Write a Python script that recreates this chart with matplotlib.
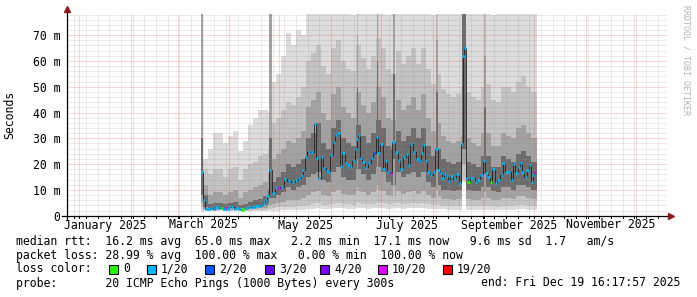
import matplotlib
matplotlib.use("Agg")
import matplotlib.pyplot as plt
from matplotlib.lines import Line2D
from matplotlib.patches import Rectangle

# x values are day-of-year 2025 (Jan 1 = 0)
med_day = [73.6, 74.8, 76.0, 77.6, 79.0, 81.0, 82.4, 84.0, 85.6, 87.0,
           88.0, 89.0, 90.0, 91.6, 93.6, 95.0, 96.4, 98.0, 99.0, 100.4,
           102.0, 103.6, 105.0, 106.4, 108.0, 109.6, 111.0, 112.0, 113.0, 114.4,
           116.6, 118.0, 119.6, 121.6, 123.6, 126.0, 128.4, 130.0, 132.0, 133.6,
           134.4, 136.0, 137.8, 139.6, 141.6, 142.8, 144.0, 145.6, 147.0, 148.8,
           150.0, 151.2, 152.8, 154.0, 155.6, 157.0, 158.6, 160.0, 161.6, 163.0,
           164.8, 166.0, 166.8, 168.0, 169.0, 170.6, 172.0, 174.0, 175.6, 177.0,
           178.6, 179.6, 181.4, 182.6, 184.0, 185.4, 187.0, 188.6, 190.4, 192.0,
           193.4, 195.0, 196.6, 198.0, 199.0, 201.0, 203.0, 204.4, 205.6, 207.0,
           208.0, 209.6, 211.0, 213.0, 214.4, 215.6, 217.0, 218.0, 219.6, 220.6,
           222.0, 223.3, 225.6, 227.0, 228.6, 229.6, 230.6, 231.6, 232.6, 233.6,
           235.0, 236.4, 238.0, 239.6, 241.4, 243.0, 244.4, 245.6, 247.0, 248.6,
           250.0, 251.6, 253.6, 254.6, 256.4, 258.0, 259.6, 261.0, 262.4, 264.0,
           265.0, 266.0, 268.0, 269.0, 270.4, 271.6, 272.4, 273.6]
med_ms = [17.0, 6.1, 2.6, 2.6, 2.8, 2.6, 3.2, 3.0, 2.8, 2.6,
          2.9, 2.7, 3.2, 3.3, 2.7, 2.9, 2.6, 2.2, 2.7, 3.0,
          3.2, 3.3, 3.5, 3.6, 3.9, 4.3, 4.8, 6.1, 7.6, 17.7,
          8.9, 10.7, 10.9, 11.2, 14.1, 13.5, 13.2, 13.8, 14.5, 15.5,
          17.7, 22.9, 24.8, 24.8, 35.4, 22.2, 14.5, 22.9, 18.5, 17.5,
          17.0, 23.5, 28.7, 31.3, 31.9, 19.3, 24.4, 20.5, 19.5, 19.0,
          21.3, 26.0, 29.6, 31.3, 22.2, 20.9, 19.0, 20.3, 22.2, 24.2,
          30.6, 24.2, 27.8, 18.1, 21.3, 17.0, 16.4, 28.4, 24.8, 21.6,
          18.0, 22.9, 23.8, 19.6, 27.7, 24.8, 21.9, 21.3, 24.4, 27.4,
          21.3, 17.0, 15.8, 16.8, 25.7, 17.7, 16.4, 14.5, 16.2, 15.4,
          13.4, 15.4, 14.1, 16.2, 12.6, 27.8, 62.0, 64.9, 14.5, 12.9,
          14.5, 14.5, 13.2, 13.8, 15.8, 21.3, 16.7, 15.1, 13.2, 18.0,
          12.6, 13.8, 15.8, 20.3, 16.8, 16.8, 13.8, 19.9, 16.4, 19.0,
          20.5, 17.0, 15.1, 17.7, 19.6, 13.2, 15.8, 17.1]
# pings lost out of 20 for each median sample
med_lost = [1, 1, 1, 1, 1, 1, 1, 1, 0, 1,
            10, 1, 1, 1, 1, 1, 1, 0, 0, 1,
            1, 1, 1, 1, 1, 1, 1, 1, 1, 1,
            1, 1, 10, 1, 1, 1, 1, 1, 1, 1,
            1, 1, 1, 1, 1, 1, 1, 1, 1, 1,
            1, 1, 1, 1, 1, 1, 1, 1, 1, 1,
            1, 1, 1, 1, 1, 1, 1, 1, 1, 2,
            1, 1, 1, 1, 1, 1, 10, 1, 1, 1,
            1, 1, 1, 1, 1, 1, 1, 1, 1, 1,
            1, 1, 1, 1, 1, 1, 1, 1, 1, 1,
            1, 1, 1, 1, 1, 1, 1, 1, 1, 0,
            1, 1, 1, 1, 1, 1, 1, 1, 0, 1,
            1, 1, 1, 1, 1, 1, 1, 1, 1, 1,
            1, 1, 1, 1, 1, 1, 1, 10]

# smoke (ping spread percentiles) per sample, ms
smoke_day = [73, 74, 77, 80, 83, 86, 89, 92, 95, 98,
             101, 104, 107, 110, 113, 114, 115.5, 118, 121, 124,
             127, 130, 133, 136, 139, 142, 145, 148, 151, 154,
             157, 160, 163, 166, 166.5, 167.5, 169, 172, 175, 178,
             178.5, 179.5, 181, 184, 187, 188.5, 189.5, 190, 193, 196,
             199, 202, 205, 208, 211, 214, 214.3, 215.3, 217, 220,
             223, 226, 229, 229.7, 232.2, 235, 238, 241, 242.8, 243.8,
             244, 247, 250, 253, 256, 259, 262, 265, 268, 271,
             274.4]
smoke_min = [1.5, 1.8, 1.8, 1.8, 1.8, 1.7, 1.8, 1.8, 1.8, 1.7,
             1.8, 1.9, 2.0, 2.0, 2.2, 1.8, 2.0, 2.0, 2.1, 2.2,
             2.2, 2.3, 2.4, 2.6, 2.7, 2.8, 2.6, 2.5, 2.8, 3.0,
             2.8, 2.7, 2.6, 2.9, 2.9, 2.9, 2.8, 2.7, 2.8, 3.0,
             3.0, 3.0, 2.9, 2.7, 2.6, 2.8, 2.6, 2.9, 2.7, 2.8,
             2.9, 2.8, 2.9, 2.7, 2.5, 2.6, 2.6, 2.6, 2.5, 2.4,
             2.4, 2.4, 2.3, 13, 2.3, 2.3, 2.3, 2.4, 2.4, 2.4,
             2.4, 2.3, 2.3, 2.4, 2.4, 2.4, 2.5, 2.5, 2.4, 2.3,
             2.3]
smoke_p10 = [2.5, 2.1, 2.0, 2.0, 2.1, 1.9, 2.0, 2.1, 2.0, 1.9,
             2.0, 2.1, 2.3, 2.4, 2.7, 2.5, 3.0, 3.2, 3.3, 3.5,
             3.5, 3.6, 3.8, 4.2, 4.5, 4.8, 4.3, 4.0, 4.6, 5.0,
             4.5, 4.4, 4.3, 4.9, 5.0, 4.9, 4.6, 4.4, 4.7, 5.0,
             5.2, 5.0, 4.8, 4.4, 4.2, 4.8, 4.2, 4.8, 4.5, 4.6,
             4.8, 4.5, 4.8, 4.4, 4.0, 4.2, 4.5, 4.2, 3.9, 3.8,
             3.7, 3.8, 3.7, 14, 3.7, 3.6, 3.6, 3.8, 4.0, 3.8,
             3.8, 3.6, 3.5, 3.8, 3.8, 3.8, 4.0, 4.0, 3.8, 3.7,
             3.7]
smoke_p25 = [5, 2.6, 2.4, 2.4, 2.5, 2.3, 2.4, 2.6, 2.3, 2.2,
             2.5, 2.6, 2.8, 3.0, 3.6, 4, 4.5, 5.0, 5.5, 6.0,
             6.0, 6.0, 7.0, 8.0, 9.0, 9.5, 8.0, 7.5, 9.0, 10,
             8.5, 8.0, 8.0, 9.5, 11, 9.5, 9.0, 8.0, 9.0, 10,
             12, 10, 9.5, 8.0, 7.5, 11, 7.5, 9.5, 8.5, 9.0,
             9.5, 8.5, 9.5, 8.0, 7.0, 7.5, 10, 7.5, 6.5, 6.5,
             6.0, 6.5, 6.5, 20, 6.5, 6.0, 6.0, 7.0, 9, 7.0,
             7.0, 6.0, 6.0, 7.0, 7.0, 6.5, 7.5, 7.5, 7.0, 6.5,
             6.5]
smoke_p40 = [8, 3.5, 2.8, 2.8, 3.0, 2.7, 2.9, 3.1, 2.8, 2.6,
             3.0, 3.2, 3.6, 4.0, 5.0, 7, 7, 8, 9, 11,
             10, 11, 12, 15, 16, 17, 14, 13, 17, 19,
             15, 14, 14, 18, 22, 18, 16, 14, 16, 19,
             24, 19, 17, 13, 12, 22, 12, 17, 15, 16,
             17, 15, 17, 13, 11, 12, 18, 12, 10, 10,
             9.5, 10, 10, 26, 10, 9.5, 9.5, 11, 16, 11,
             11, 9.5, 9.0, 11, 11, 10, 12, 12, 11, 10,
             10]
smoke_p60 = [30, 8, 4.5, 4.8, 5.0, 4.4, 5.0, 5.5, 4.2, 4.6,
             5.5, 6.0, 6.5, 7.5, 10, 30, 13, 15, 17, 20,
             19, 20, 22, 30, 32, 36, 28, 26, 34, 37,
             30, 28, 27, 35, 50, 35, 31, 28, 32, 37,
             60, 37, 34, 27, 26, 55, 26, 33, 29, 31,
             34, 30, 34, 27, 23, 26, 48, 26, 22, 21,
             20, 21, 22, 80, 21, 20, 19, 23, 42, 23,
             23, 19, 19, 23, 22, 21, 24, 25, 23, 21,
             21]
smoke_p75 = [80, 12, 8, 9, 9, 8, 9, 10, 7, 9,
             10, 11, 12, 13, 16, 80, 22, 24, 26, 29,
             28, 30, 33, 42, 45, 48, 40, 37, 47, 50,
             42, 40, 38, 48, 70, 48, 43, 40, 44, 50,
             80, 50, 46, 38, 37, 80, 37, 45, 41, 43,
             46, 41, 47, 38, 33, 36, 68, 36, 31, 29,
             28, 29, 31, 80, 30, 28, 27, 32, 62, 32,
             32, 27, 27, 32, 31, 30, 34, 35, 32, 30,
             30]
smoke_p90 = [80, 18, 16, 18, 18, 15, 18, 19, 14, 18,
             20, 21, 23, 24, 26, 80, 36, 38, 41, 44,
             43, 46, 50, 60, 63, 66, 58, 55, 65, 68,
             60, 57, 56, 66, 80, 66, 61, 57, 62, 69,
             80, 69, 65, 57, 55, 80, 55, 64, 59, 62,
             65, 59, 65, 57, 51, 55, 80, 55, 49, 47,
             46, 47, 50, 80, 48, 46, 45, 50, 80, 50,
             51, 45, 44, 50, 50, 48, 52, 54, 50, 48,
             48]
smoke_max = [80, 22, 26, 32, 32, 28, 31, 33, 25, 29,
             35, 38, 41, 41, 40, 80, 52, 55, 62, 71,
             66, 72, 70, 80, 80, 80, 80, 80, 80, 80,
             80, 80, 78, 80, 80, 80, 80, 80, 80, 80,
             80, 80, 80, 78, 80, 80, 80, 80, 80, 80,
             80, 80, 80, 80, 78, 80, 80, 80, 80, 80,
             80, 80, 80, 80, 80, 80, 80, 80, 80, 80,
             80, 78, 80, 80, 80, 80, 80, 80, 80, 80,
             80]

loss_lost = [0, 1, 2, 3, 4, 10, 19]
loss_labels = ["0", "1/20", "2/20", "3/20", "4/20", "10/20", "19/20"]
loss_colors = ["#26ff00", "#00b8ff", "#0059ff", "#5e00ff", "#7e00ff", "#dd00ff", "#ff0000"]

month_start = [0, 31, 59, 90, 120, 151, 181, 212, 243, 273, 304, 334, 365]
month_label = ["January 2025", "March 2025", "May 2025", "July 2025",
               "September 2025", "November 2025"]

W, H = 697, 297
X0, X1 = -7.32, 352.68      # 360 days ending Dec 19 16:17
YMAX = 78.2
MONO = "DejaVu Sans Mono"
FS = 8.3


def fx(px):
    return px / W


def fy(py):
    return 1 - py / H


fig = plt.figure(figsize=(W / 100, H / 100), dpi=100)
fig.patch.set_facecolor("white")
ax = fig.add_axes([fx(67), fy(215.7), 600 / W, (215.7 - 14) / H])
ax.set_xlim(X0, X1)
ax.set_ylim(0, YMAX)
ax.set_facecolor("white")

# smoke, darker towards the median
bands = [(smoke_min, smoke_max, "#dcdcdc"),
         (smoke_p10, smoke_p90, "#c3c3c3"),
         (smoke_p25, smoke_p75, "#a2a2a2"),
         (smoke_p40, smoke_p60, "#6c6c6c")]
for lo, hi, c in bands:
    ax.fill_between(smoke_day, lo, hi, step="post", color=c, lw=0,
                    antialiased=False, zorder=1)

# grid on top of the smoke (as rrdtool does)
minor_c = (0.56, 0.56, 0.56, 0.35)
major_c = (0.87, 0.31, 0.31, 0.45)
dot = (0, (1, 1))
for v in range(2, 79, 2):
    ax.axhline(v, color=major_c if v % 10 == 0 else minor_c, lw=0.72, ls=dot, zorder=3)
sundays = list(range(-3, 353, 7))
for d in sundays:
    if d not in month_start:
        ax.axvline(d, color=minor_c, lw=0.72, ls=dot, zorder=3)
for d in month_start[:-1]:
    ax.axvline(d, color=major_c, lw=0.72, ls=dot, zorder=3)

# median rtt, dark connector + coloured by loss
ax.plot(med_day, med_ms, drawstyle="steps-mid", color="#202020", lw=0.6, zorder=4)
col_of = dict(zip(loss_lost, loss_colors))
for d, v, n in zip(med_day, med_ms, med_lost):
    ax.hlines(v, d - 0.75, d + 0.75, colors=col_of[n], lw=1.9, zorder=5)

# axes
for s in ["top", "right", "left", "bottom"]:
    ax.spines[s].set_visible(False)
ax.set_yticks([0, 10, 20, 30, 40, 50, 60, 70])
ax.set_yticklabels(["0", "10 m", "20 m", "30 m", "40 m", "50 m", "60 m", "70 m"],
                   fontfamily=MONO, fontsize=FS)
ax.tick_params(axis="y", length=0, pad=5)
ax.set_xticks([])

fig.add_artist(Line2D([fx(62), fx(670)], [fy(215.7), fy(215.7)], color="black", lw=0.9))
fig.add_artist(Line2D([fx(67), fx(67)], [fy(220), fy(10)], color="black", lw=0.9))
fig.add_artist(Line2D([fx(671)], [fy(215.7)], marker=">", ms=4, color="#8b1c1c", lw=0))
fig.add_artist(Line2D([fx(67)], [fy(9)], marker="^", ms=4, color="#8b1c1c", lw=0))

# small tick marks under the x axis
xt = ax.get_xaxis_transform()
for d in sundays + month_start[:-1]:
    if X0 < d < X1:
        ax.plot([d, d], [0, -0.012], transform=xt, color="black", lw=0.7, clip_on=False)

for i, lab in enumerate(month_label):
    m = 2 * i
    mid = (month_start[m] + month_start[m + 1]) / 2
    ax.text(mid, -(225 - 215.7) / 201.7, lab, transform=xt, ha="center", va="center",
            fontfamily=MONO, fontsize=FS)

fig.text(fx(10), fy(115), "Seconds", rotation=90, ha="center", va="center",
         fontfamily=MONO, fontsize=FS)
fig.text(fx(686), fy(5), "RRDTOOL / TOBI OETIKER", rotation=270, ha="center", va="top",
         fontfamily=MONO, fontsize=6, color="#b4b4b4")

# legend block
lines = [
    (241, "median rtt:  16.2 ms avg  65.0 ms max   2.2 ms min  17.1 ms now   9.6 ms sd  1.7   am/s"),
    (255, "packet loss: 28.99 % avg  100.00 % max   0.00 % min  100.00 % now"),
    (269, "loss color:"),
    (283, "probe:       20 ICMP Echo Pings (1000 Bytes) every 300s"),
]
for y, s in lines:
    fig.text(fx(16), fy(y), s, ha="left", va="center", fontfamily=MONO, fontsize=FS)
fig.text(fx(680), fy(283), "end: Fri Dec 19 16:17:57 2025", ha="right", va="center",
         fontfamily=MONO, fontsize=FS)

box_x = [109, 147, 205, 265, 320, 378, 443]
for bx, lab, c in zip(box_x, loss_labels, loss_colors):
    fig.add_artist(Rectangle((fx(bx), fy(273.5)), 9 / W, 9 / H, transform=fig.transFigure,
                             facecolor=c, edgecolor="black", lw=0.8))
    fig.text(fx(bx + 14), fy(269), lab, ha="left", va="center", fontfamily=MONO, fontsize=FS)

fig.savefig("out.png", dpi=100)
